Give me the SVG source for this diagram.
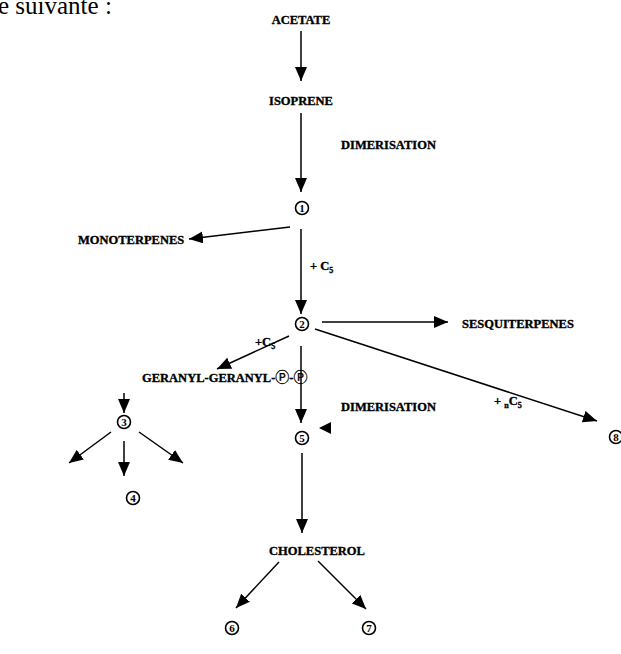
<svg xmlns="http://www.w3.org/2000/svg" width="621" height="654" viewBox="0 0 621 654">
  <style>
    .lbl { font-family: "Liberation Serif", "DejaVu Serif", serif; font-weight: bold; font-size: 12.5px; fill: #000; stroke: #000; stroke-width: 0.35; }
    .ring { fill: #fff; stroke: #000; stroke-width: 1.6; }
    .dig { font-family: "Liberation Serif", serif; font-weight: bold; font-size: 11px; fill: #000; text-anchor: middle; }
    .circ { font-family: "DejaVu Sans", "Noto Sans CJK JP", sans-serif; font-weight: normal; font-size: 14px; stroke-width: 0.3; }
    .head { font-family: "Liberation Serif", serif; font-size: 25px; fill: #000; }
    .edge { stroke: #000; stroke-width: 1.5; fill: none; marker-end: url(#arr); }
  </style>
  <defs>
    <marker id="arr" viewBox="0 0 14 12" refX="14" refY="6" markerWidth="14" markerHeight="12" markerUnits="userSpaceOnUse" orient="auto">
      <path d="M0,0 L14,6 L0,12 Z" fill="#000"/>
    </marker>
  </defs>

  <text class="head" x="-2" y="14">e suivante :</text>

  <g id="acetate"><text class="lbl" x="301" y="24" text-anchor="middle">ACETATE</text></g>
  <g id="isoprene"><text class="lbl" x="301" y="105" text-anchor="middle">ISOPRENE</text></g>
  <g id="n1"><circle class="ring" cx="302" cy="208" r="6.5"/><text class="dig" x="302" y="212">1</text></g>
  <g id="monoterpenes"><text class="lbl" x="78" y="244">MONOTERPENES</text></g>
  <g id="n2"><circle class="ring" cx="302" cy="324" r="6.5"/><text class="dig" x="302" y="328">2</text></g>
  <g id="sesquiterpenes"><text class="lbl" x="462" y="328">SESQUITERPENES</text></g>
  <g id="n8"><circle class="ring" cx="616" cy="437" r="6.5"/><text class="dig" x="616" y="441">8</text></g>
  <g id="ggpp"><text class="lbl" x="142" y="382">GERANYL-GERANYL-<tspan class="circ">Ⓟ</tspan>-<tspan class="circ">Ⓟ</tspan></text></g>
  <g id="n3"><circle class="ring" cx="124" cy="422" r="6.5"/><text class="dig" x="124" y="426">3</text></g>
  <g id="n4"><circle class="ring" cx="133" cy="498" r="6.5"/><text class="dig" x="133" y="502">4</text></g>
  <g id="n5"><circle class="ring" cx="302" cy="438" r="6.5"/><text class="dig" x="302" y="442">5</text></g>
  <g id="cholesterol"><text class="lbl" x="317" y="555" text-anchor="middle">CHOLESTEROL</text></g>
  <g id="n6"><circle class="ring" cx="232" cy="628" r="6.5"/><text class="dig" x="232" y="632">6</text></g>
  <g id="n7"><circle class="ring" cx="369" cy="628" r="6.5"/><text class="dig" x="369" y="632">7</text></g>

  <g id="connectors">
    <line class="edge" x1="301" y1="31" x2="301" y2="81"/>
    <line class="edge" x1="301" y1="113" x2="301" y2="192"/>
    <line class="edge" x1="290" y1="227" x2="189" y2="239"/>
    <line class="edge" x1="301" y1="229" x2="301" y2="314"/>
    <line class="edge" x1="322" y1="322" x2="448" y2="322"/>
    <line class="edge" x1="315" y1="329" x2="597" y2="421"/>
    <line class="edge" x1="289" y1="336" x2="217" y2="369"/>
    <line class="edge" x1="301" y1="346" x2="301" y2="423"/>
    <path d="M319,428 L331,422 L331,434 Z" fill="#000"/>
    <line class="edge" x1="302" y1="453" x2="302" y2="533"/>
    <line class="edge" x1="279" y1="562" x2="236" y2="608"/>
    <line class="edge" x1="318" y1="561" x2="366" y2="609"/>
    <line class="edge" x1="124" y1="393" x2="124" y2="413"/>
    <line class="edge" x1="111" y1="432" x2="69" y2="463"/>
    <line class="edge" x1="139" y1="432" x2="183" y2="463"/>
    <line class="edge" x1="124" y1="441" x2="124" y2="476"/>
  </g>

  <g id="labels">
    <text class="lbl" x="341" y="149">DIMERISATION</text>
    <text class="lbl" x="310" y="270">+ C<tspan font-size="8" dy="3">5</tspan></text>
    <text class="lbl" x="255" y="346">+C<tspan font-size="8" dy="3">5</tspan></text>
    <text class="lbl" x="494" y="405">+ <tspan font-size="8" dy="3">n</tspan><tspan dy="-3">C</tspan><tspan font-size="8" dy="3">5</tspan></text>
    <text class="lbl" x="341" y="411">DIMERISATION</text>
  </g>
</svg>
